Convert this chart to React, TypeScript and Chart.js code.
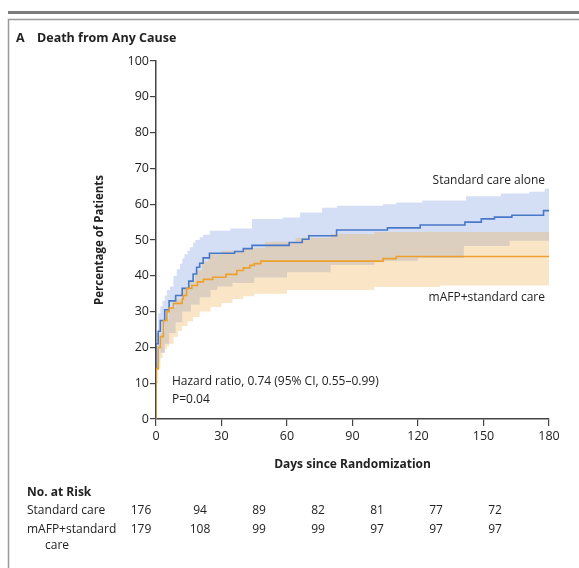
import React, { useEffect, useRef } from "react";
import { Chart, registerables } from "chart.js";

Chart.register(...registerables);

// ---- Data ----
const xTickDays = [0, 30, 60, 90, 120, 150, 180];

// Kaplan-Meier: Standard care alone
const stdDays = [0, 0, 1, 2, 4, 6, 9, 12, 15, 17, 18.6, 20, 21.6, 24.5, 36, 40, 44, 61, 67, 70, 82.7, 106, 121, 141.5, 149, 155, 163, 177.5, 180];
const stdPct = [0, 21, 24.5, 27.5, 30.5, 33, 34.5, 36.5, 38.5, 40.5, 42.4, 43.5, 45, 46.3, 46.8, 47.6, 48.5, 49.3, 50.2, 51.2, 52.8, 53.4, 54.2, 55, 55.9, 56.4, 56.9, 58.2, 58.2];

// Kaplan-Meier: mAFP + standard care
const mafpDays = [0, 0, 1, 2, 3.4, 5, 6, 8, 12, 12.5, 14, 16.4, 19, 21.7, 26, 32, 37, 40, 43, 45, 48, 104, 110, 180];
const mafpPct = [0, 14, 20, 23, 27.5, 30, 31, 32.3, 33.5, 34.5, 36.5, 37.3, 38.3, 39, 39.6, 40.4, 41.5, 42.2, 42.9, 43.4, 44.1, 44.8, 45.4, 45.4];

// 95% CI bands
const stdUpperDays = [0, 1, 2, 3, 4, 5, 6.4, 8, 9.5, 11, 12, 13, 14.5, 15.6, 17, 18, 20, 21.6, 24.7, 34, 44, 58, 66, 76, 83, 104, 110, 122, 142, 158, 171, 178, 180];
const stdUpper = [24, 29.5, 31.5, 33, 34.5, 36, 37, 40, 41.8, 43.4, 44.8, 46, 47, 48, 49.2, 50, 50.8, 51.5, 52.6, 53.2, 55.9, 56.3, 57.7, 59, 59.6, 60, 60.5, 61, 62.2, 63, 63.5, 64.3, 64.3];
const stdLowerDays = [0, 1, 2, 4, 6, 9, 12, 16, 20, 25, 28, 35, 45, 60, 80, 100, 120, 141, 162, 180];
const stdLower = [14, 16, 18.5, 21, 24, 27, 30, 32, 34, 36, 37, 38, 39.5, 41, 43, 44.2, 45, 48.3, 49.8, 49.8];

const mafpUpperDays = [0, 2, 4, 6, 9, 12, 15, 18, 21, 24, 30, 40, 50, 64, 80, 100, 180];
const mafpUpper = [16, 24, 28, 31, 33.5, 36, 38.5, 41.5, 44, 46, 47, 47.8, 49.5, 50.6, 51.7, 52.2, 52.2];
const mafpLowerDays = [0, 1, 2, 3, 4, 5, 6, 8, 10, 12, 14.5, 17, 20, 25, 30, 35, 40, 45, 60, 100, 130, 180];
const mafpLower = [10, 14, 17, 18.5, 19.5, 20.3, 21, 23, 24.6, 26, 27.3, 28.5, 30, 31.3, 32.4, 33.5, 34.3, 35, 36, 36.9, 37.3, 37.6];

// Number at risk
const riskGroups = ["Standard care", "mAFP+standard"];
const riskStd = [176, 94, 89, 82, 81, 77, 72];
const riskMafp = [179, 108, 99, 99, 97, 97, 97];

const FONT = '"Open Sans", sans-serif';
const TEXT = "#222";

const pts = (xs: number[], ys: number[]) => xs.map((x, i) => ({ x, y: ys[i] }));

const annotations = {
  id: "annotations",
  afterDraw(chart: any) {
    const { ctx } = chart;
    const xs = chart.scales.x;
    const ys = chart.scales.y;
    ctx.save();
    // frame
    ctx.fillStyle = "#7d7d7d";
    ctx.fillRect(8, 11, 571, 3);
    ctx.strokeStyle = "#9a9a9a";
    ctx.lineWidth = 1.5;
    ctx.beginPath();
    ctx.moveTo(579, 19.5);
    ctx.lineTo(8.5, 19.5);
    ctx.lineTo(8.5, 568);
    ctx.stroke();

    ctx.fillStyle = TEXT;
    ctx.textBaseline = "middle";
    // title
    ctx.font = `bold 12.5px ${FONT}`;
    ctx.textAlign = "left";
    ctx.fillText("A", 16, 38);
    ctx.fillText("Death from Any Cause", 37, 38);

    // y title
    ctx.save();
    ctx.translate(100, (ys.top + ys.bottom) / 2);
    ctx.rotate(-Math.PI / 2);
    ctx.textAlign = "center";
    ctx.font = `bold 11.5px ${FONT}`;
    ctx.fillText("Percentage of Patients", 0, 0);
    ctx.restore();

    // x title
    ctx.textAlign = "center";
    ctx.font = `bold 12px ${FONT}`;
    ctx.fillText("Days since Randomization", (xs.left + xs.right) / 2, 465);

    // series labels
    ctx.font = `12px ${FONT}`;
    ctx.textAlign = "right";
    ctx.fillText("Standard care alone", xs.getPixelForValue(180) - 4, ys.getPixelForValue(66.6));
    ctx.fillText("mAFP+standard care", xs.getPixelForValue(180) - 4, ys.getPixelForValue(34));

    // hazard ratio
    ctx.textAlign = "left";
    ctx.fillText("Hazard ratio, 0.74 (95% CI, 0.55\u20130.99)", xs.getPixelForValue(7.3), ys.getPixelForValue(10.4));
    ctx.fillText("P=0.04", xs.getPixelForValue(7.3), ys.getPixelForValue(5.3));

    // risk table
    ctx.font = `bold 12px ${FONT}`;
    ctx.fillText("No. at Risk", 27, 493);
    ctx.font = `12px ${FONT}`;
    ctx.fillText(riskGroups[0], 27, 511);
    ctx.fillText(riskGroups[1], 27, 530);
    ctx.fillText("care", 45, 546);
    ctx.textAlign = "center";
    const colX = (i: number) => 141 + 59 * i;
    riskStd.forEach((v, i) => ctx.fillText(String(v), colX(i), 511));
    riskMafp.forEach((v, i) => ctx.fillText(String(v), colX(i), 530));
    ctx.restore();
  },
};

export default function App() {
  const ref = useRef<HTMLCanvasElement>(null);
  useEffect(() => {
    if (!ref.current) return;
    const band = (data: any, fill: any, color: string, order: number) => ({
      data,
      fill,
      backgroundColor: color,
      borderWidth: 0,
      borderColor: "rgba(0,0,0,0)",
      pointRadius: 0,
      stepped: true,
      order,
    });
    const chart = new Chart(ref.current, {
      type: "line",
      data: {
        datasets: [
          band(pts(stdUpperDays, stdUpper), "+1", "rgba(100,140,220,0.28)", 20),
          band(pts(stdLowerDays, stdLower), false, "rgba(0,0,0,0)", 21),
          band(pts(mafpUpperDays, mafpUpper), "+1", "rgba(240,170,70,0.3)", 15),
          band(pts(mafpLowerDays, mafpLower), false, "rgba(0,0,0,0)", 16),
          {
            data: pts(stdDays, stdPct),
            borderColor: "rgb(72,120,200)",
            borderWidth: 1.6,
            pointRadius: 0,
            fill: false,
            stepped: true,
            order: 1,
          },
          {
            data: pts(mafpDays, mafpPct),
            borderColor: "rgb(236,160,45)",
            borderWidth: 1.6,
            pointRadius: 0,
            fill: false,
            stepped: true,
            order: 0,
          },
        ],
      },
      options: {
        animation: false,
        responsive: false,
        layout: { padding: { left: 106, right: 30, top: 61, bottom: 109 } },
        plugins: { legend: { display: false }, tooltip: { enabled: false } },
        scales: {
          x: {
            type: "linear",
            min: 0,
            max: 180,
            afterBuildTicks: (s: any) => {
              s.ticks = xTickDays.map((v) => ({ value: v }));
            },
            afterFit: (s: any) => {
              s.height = 40;
            },
            ticks: { color: TEXT, font: { family: FONT, size: 12.5 }, padding: 3, maxRotation: 0, autoSkip: false },
            grid: { drawOnChartArea: false, drawTicks: true, tickLength: 7, color: "#444", lineWidth: 1.2 },
            border: { display: true, color: "#444", width: 1.5 },
          },
          y: {
            min: 0,
            max: 100,
            afterFit: (s: any) => {
              s.width = 50;
            },
            ticks: { stepSize: 10, color: TEXT, font: { family: FONT, size: 12.5 }, padding: 1 },
            grid: { drawOnChartArea: false, drawTicks: true, tickLength: 6, color: "#444", lineWidth: 1.2 },
            border: { display: true, color: "#444", width: 1.5 },
          },
        },
      },
      plugins: [annotations],
    });
    return () => chart.destroy();
  }, []);
  return (
    <div style={{ position: "absolute", left: 0, top: 0, width: 579, height: 568, background: "#fff" }}>
      <canvas ref={ref} width={579} height={568} style={{ display: "block" }} />
    </div>
  );
}
